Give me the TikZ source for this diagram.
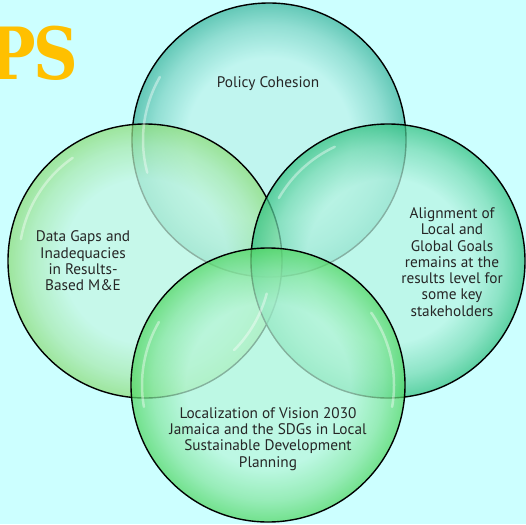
\documentclass[tikz,border=0pt]{standalone}
\usepackage{fontspec}
\setmainfont{PT Sans}
\newfontfamily\headfont{DejaVu Serif}
\usepackage{tikz}

\definecolor{bgcyan}{RGB}{204,255,255}
\definecolor{headgold}{RGB}{255,192,0}
\definecolor{tealmid}{RGB}{188,242,234}
\definecolor{tealrim}{RGB}{60,180,156}
\definecolor{limemid}{RGB}{196,246,226}
\definecolor{limerim}{RGB}{140,220,120}
\definecolor{jademid}{RGB}{184,244,226}
\definecolor{jaderim}{RGB}{50,192,128}
\definecolor{grassmid}{RGB}{184,246,218}
\definecolor{grassrim}{RGB}{80,214,98}

\colorlet{midc}{white}
\colorlet{rimc}{black}
\colorlet{halfc}{gray}
\pgfdeclareradialshading[midc,halfc,rimc]{glass}{\pgfpoint{0bp}{0bp}}{%
  color(0bp)=(midc); color(15bp)=(midc); color(21bp)=(halfc);
  color(25bp)=(rimc); color(50bp)=(rimc)}

\tikzset{
  bubble/.style 2 args={circle, minimum size=274pt, inner sep=0pt,
    /utils/exec={\colorlet{midc}{#1}\colorlet{rimc}{#2}\colorlet{halfc}{#2!50!#1}},
    shading=glass, fill opacity=0.72, draw=black, line width=1.4pt},
  gloss/.style={white, opacity=0.4, line width=2.5pt, line cap=round},
  txt/.style={align=center, text=black!85, inner sep=0pt,
    font=\fontsize{15.3}{16.3}\selectfont},
}

\begin{document}
\begin{tikzpicture}[x=1pt,y=-1pt]

	\fill[bgcyan] (0,0) rectangle (526,524);
	\useasboundingbox (0,0) rectangle (526,524);
	\clip (0,0) rectangle (526,524);

	\node[anchor=base east, inner sep=0pt, text=headgold, transform shape, xscale=0.86,
	      font=\headfont\bfseries\fontsize{72}{72}\selectfont] (heading) at (78,80) {P\kern-3pt S};

	\node[bubble={tealmid}{tealrim}] (policy) at (269,140) {};
	\node[bubble={limemid}{limerim}] (datagaps) at (145,261) {};
	\node[bubble={jademid}{jaderim}] (alignment) at (388,261) {};
	\node[bubble={grassmid}{grassrim}] (localization) at (268,385) {};

	% glossy streaks
	\draw[gloss] ([shift={(150:126pt)}]policy.center) arc[start angle=150, end angle=195, radius=126pt];
	\draw[gloss] ([shift={(125:126pt)}]datagaps.center) arc[start angle=125, end angle=170, radius=126pt];
	\draw[gloss] ([shift={(-45:126pt)}]datagaps.center) arc[start angle=-45, end angle=-15, radius=126pt];
	\draw[gloss] ([shift={(115:126pt)}]alignment.center) arc[start angle=115, end angle=150, radius=126pt];
	\draw[gloss] ([shift={(150:126pt)}]localization.center) arc[start angle=150, end angle=190, radius=126pt];
	\draw[gloss] ([shift={(-10:126pt)}]localization.center) arc[start angle=-10, end angle=35, radius=126pt];

	\node[txt] (policytxt) at (268,84) {Policy Cohesion};
	\node[txt] (datatxt) at (83,261) {Data Gaps and\\Inadequacies\\in Results-\\Based M\&E};
	\node[txt] (aligntxt) at (452,262) {Alignment of\\Local and\\Global Goals\\remains at the\\results level for\\some key\\stakeholders};
	\node[txt] (localtxt) at (268,439) {Localization of Vision 2030\\Jamaica and the SDGs in Local\\Sustainable Development\\Planning};

\end{tikzpicture}
\end{document}
